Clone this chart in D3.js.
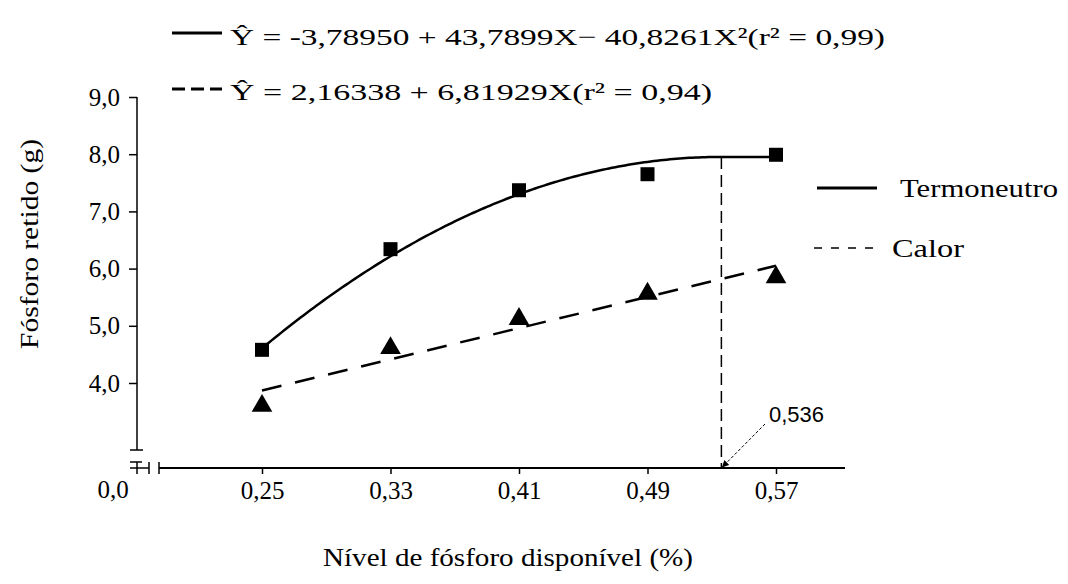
<!DOCTYPE html>
<html lang="pt">
<head>
    <meta charset="UTF-8">
    <title>Fósforo retido</title>
    <script src="https://cdnjs.cloudflare.com/ajax/libs/d3/7.8.5/d3.min.js"></script>
    <style>
        body { margin: 0; background: #fff; }
        svg text { font-family: "Liberation Serif", "DejaVu Serif", serif; fill: #000; }
    </style>
</head>
<body>
    <div id="chart"></div>
    <script>
        // Dados
        const niveis = [0.25, 0.33, 0.41, 0.49, 0.57];
        const termoneutro = [4.58, 6.34, 7.37, 7.65, 7.99];
        const calor = [3.60, 4.61, 5.12, 5.56, 5.85];
        const yTicks = [4, 5, 6, 7, 8, 9];
        const xTickLabels = ["0,25", "0,33", "0,41", "0,49", "0,57"];
        const coefQuad = [-3.78950, 43.7899, -40.8261];
        const coefLin = [2.16338, 6.81929];
        const pontoMax = 0.536;

        const width = 1068, height = 584;
        const fmt = d => d.toFixed(1).replace(".", ",");

        const svg = d3.select("#chart").append("svg")
            .attr("width", width)
            .attr("height", height);

        const x = d3.scaleLinear().domain([0.25, 0.57]).range([262, 776]);
        const y = d3.scaleLinear().domain([4, 9]).range([383, 97]);
        const yBase = 468;

        // Eixo Y
        const yAxis = svg.append("g")
            .attr("transform", "translate(137,0)")
            .call(d3.axisLeft(y).tickValues(yTicks).tickSize(8).tickSizeOuter(0).tickPadding(9).tickFormat(fmt));
        yAxis.select(".domain").remove();
        yAxis.selectAll("text").style("font-size", "25px").style("font-family", "Liberation Serif");
        yAxis.selectAll("line").attr("stroke", "#000").attr("stroke-width", 1.5);
        svg.append("line").attr("x1", 137).attr("x2", 137).attr("y1", y(9)).attr("y2", 450)
            .attr("stroke", "#000").attr("stroke-width", 1.5);
        svg.append("line").attr("x1", 130).attr("x2", 143).attr("y1", 450).attr("y2", 450)
            .attr("stroke", "#000").attr("stroke-width", 1.5);

        // Quebra do eixo
        const brk = svg.append("g").attr("stroke", "#000").attr("stroke-width", 1.5);
        brk.append("line").attr("x1", 130).attr("x2", 142).attr("y1", 462).attr("y2", 462);
        brk.append("line").attr("x1", 130).attr("x2", 149).attr("y1", 468).attr("y2", 468);
        brk.append("line").attr("x1", 137).attr("x2", 137).attr("y1", 462).attr("y2", 474);
        brk.append("line").attr("x1", 149).attr("x2", 149).attr("y1", 462).attr("y2", 474);
        brk.append("line").attr("x1", 159).attr("x2", 159).attr("y1", 462).attr("y2", 474);

        // Eixo X
        const xAxis = svg.append("g")
            .attr("transform", `translate(0,${yBase})`)
            .call(d3.axisBottom(x).tickValues(niveis).tickSize(6).tickSizeOuter(0).tickPadding(7)
                .tickFormat((d, i) => xTickLabels[i]));
        xAxis.select(".domain").remove();
        xAxis.selectAll("text").style("font-size", "25px").style("font-family", "Liberation Serif");
        xAxis.selectAll("line").attr("stroke", "#000").attr("stroke-width", 1.5);
        svg.append("line").attr("x1", 159).attr("x2", 845).attr("y1", yBase).attr("y2", yBase)
            .attr("stroke", "#000").attr("stroke-width", 2);
        svg.append("text").attr("x", 113).attr("y", 498).attr("text-anchor", "middle")
            .style("font-size", "25px").text("0,0");

        // Curva quadrática (até o ponto de máximo, depois platô)
        const quad = v => coefQuad[0] + coefQuad[1] * v + coefQuad[2] * v * v;
        const lin = v => coefLin[0] + coefLin[1] * v;
        const yMax = quad(pontoMax);
        const curvaPts = d3.range(0.25, pontoMax, 0.002).map(v => [v, quad(v)]);
        curvaPts.push([pontoMax, yMax], [0.57, yMax]);
        const line = d3.line().x(d => x(d[0])).y(d => y(d[1]));

        svg.append("path").attr("d", line(curvaPts))
            .attr("fill", "none").attr("stroke", "#000").attr("stroke-width", 2.5);

        svg.append("path").attr("d", line([[0.25, lin(0.25)], [0.57, lin(0.57)]]))
            .attr("fill", "none").attr("stroke", "#000").attr("stroke-width", 2.5)
            .attr("stroke-dasharray", "20,14");

        // Linha vertical no ponto de máximo
        svg.append("line").attr("x1", x(pontoMax)).attr("x2", x(pontoMax))
            .attr("y1", y(yMax)).attr("y2", yBase)
            .attr("stroke", "#000").attr("stroke-width", 1.5).attr("stroke-dasharray", "12,6");

        // Marcadores
        svg.selectAll(".sq").data(niveis).join("rect")
            .attr("x", (d, i) => x(d) - 7).attr("y", (d, i) => y(termoneutro[i]) - 7)
            .attr("width", 14).attr("height", 14).attr("fill", "#000");
        const tri = d3.symbol().type(d3.symbolTriangle).size(185);
        svg.selectAll(".tri").data(niveis).join("path")
            .attr("d", tri)
            .attr("transform", (d, i) => `translate(${x(d)},${y(calor[i])})`)
            .attr("fill", "#000");

        // Anotação 0,536
        svg.append("defs").append("marker").attr("id", "arrow")
            .attr("viewBox", "0 0 10 10").attr("refX", 9).attr("refY", 5)
            .attr("markerWidth", 7).attr("markerHeight", 7).attr("orient", "auto")
            .append("path").attr("d", "M0,0L10,5L0,10z").attr("fill", "#000");
        svg.append("line").attr("x1", 765).attr("y1", 424).attr("x2", x(pontoMax) + 1).attr("y2", yBase - 1)
            .attr("stroke", "#000").attr("stroke-width", 1).attr("stroke-dasharray", "3,2")
            .attr("marker-end", "url(#arrow)");
        svg.append("text").attr("x", 769).attr("y", 422)
            .style("font-family", "Liberation Sans").style("font-size", "22px").text("0,536");

        // Títulos dos eixos
        svg.append("text").attr("x", 508).attr("y", 566).attr("text-anchor", "middle")
            .attr("textLength", 370).attr("lengthAdjust", "spacingAndGlyphs")
            .style("font-size", "25px").text("Nível de fósforo disponível (%)");
        svg.append("text").attr("transform", "translate(38,244) rotate(-90)").attr("text-anchor", "middle")
            .attr("textLength", 210).attr("lengthAdjust", "spacingAndGlyphs")
            .style("font-size", "25px").text("Fósforo retido (g)");

        // Legenda das equações
        svg.append("line").attr("x1", 172).attr("x2", 222).attr("y1", 33).attr("y2", 33)
            .attr("stroke", "#000").attr("stroke-width", 3);
        svg.append("text").attr("x", 230).attr("y", 45).style("font-size", "24px")
            .attr("textLength", 655).attr("lengthAdjust", "spacingAndGlyphs")
            .text("Ŷ = -3,78950 + 43,7899X− 40,8261X²(r² = 0,99)");
        svg.append("line").attr("x1", 172).attr("x2", 222).attr("y1", 89).attr("y2", 89)
            .attr("stroke", "#000").attr("stroke-width", 3).attr("stroke-dasharray", "13,6");
        svg.append("text").attr("x", 230).attr("y", 100).style("font-size", "24px")
            .attr("textLength", 482).attr("lengthAdjust", "spacingAndGlyphs")
            .text("Ŷ = 2,16338 + 6,81929X(r² = 0,94)");

        // Legenda lateral
        svg.append("line").attr("x1", 817).attr("x2", 877).attr("y1", 188).attr("y2", 188)
            .attr("stroke", "#000").attr("stroke-width", 3);
        svg.append("text").attr("x", 900).attr("y", 197).style("font-size", "25px")
            .attr("textLength", 158).attr("lengthAdjust", "spacingAndGlyphs").text("Termoneutro");
        svg.append("line").attr("x1", 814).attr("x2", 876).attr("y1", 248).attr("y2", 248)
            .attr("stroke", "#000").attr("stroke-width", 1.5).attr("stroke-dasharray", "8,9");
        svg.append("text").attr("x", 892).attr("y", 257).style("font-size", "25px")
            .attr("textLength", 72).attr("lengthAdjust", "spacingAndGlyphs").text("Calor");
    </script>
</body>
</html>
